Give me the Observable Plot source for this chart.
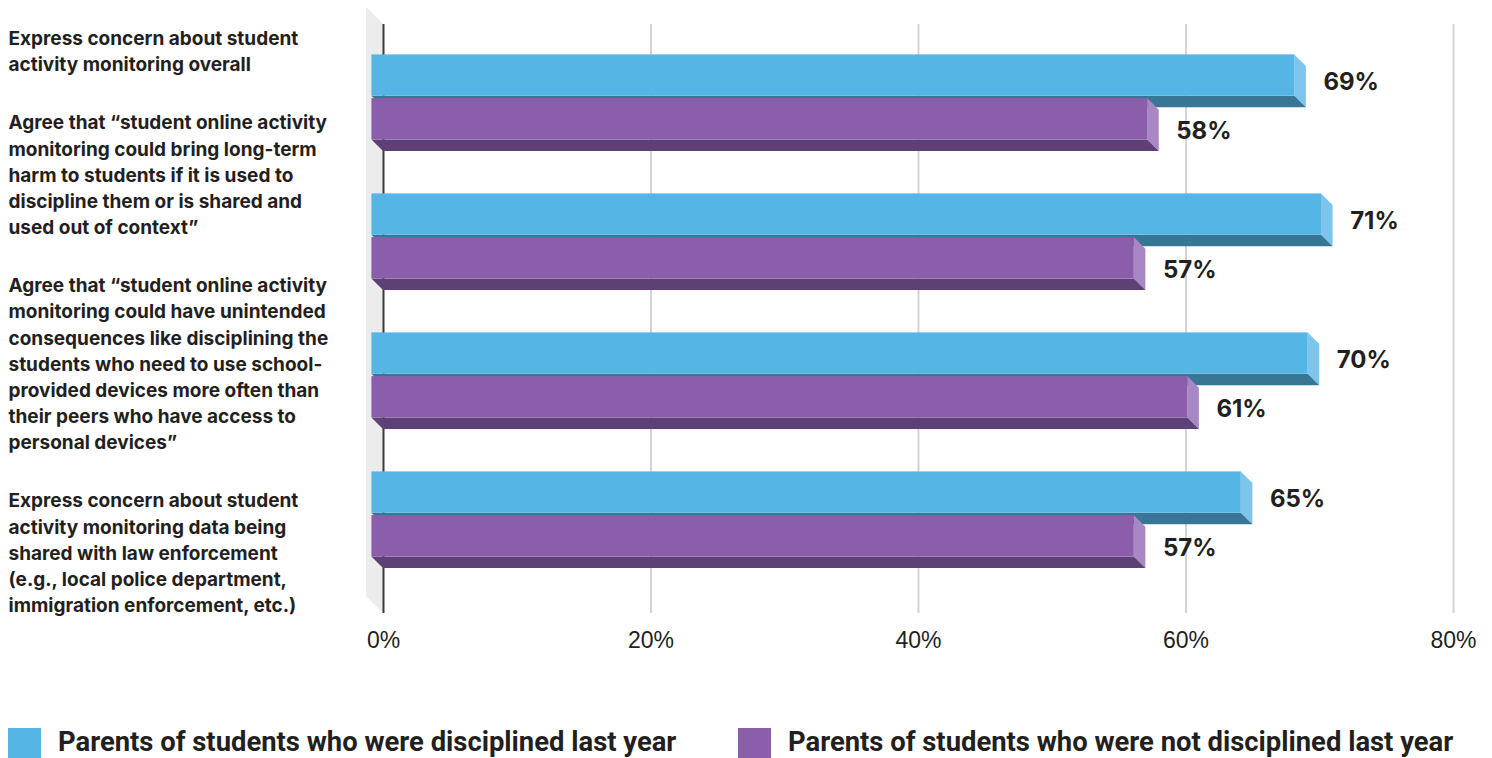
<!DOCTYPE html>
<html><head><meta charset="utf-8">
<script src="https://cdn.jsdelivr.net/npm/d3@7"></script>
<script src="https://cdn.jsdelivr.net/npm/@observablehq/plot@0.6"></script>
<style>
body{margin:0;background:#fff;width:1492px;height:758px;overflow:hidden;font-family:Roboto, sans-serif}
#legend{position:relative;height:30px;margin-top:28px}
.item{position:absolute;top:0;height:30px}
.sw{position:absolute;left:0;top:0;width:33px;height:30px}
.lab{position:absolute;left:50px;top:-3px;font-weight:700;font-size:27.4px;line-height:34px;color:#231f20;white-space:nowrap}
</style></head><body>
<div id="chart"></div>
<div id="legend"></div>
<script>
// ---- data ----
const categories = [
  "Express concern about student\nactivity monitoring overall",
  "Agree that “student online activity\nmonitoring could bring long-term\nharm to students if it is used to\ndiscipline them or is shared and\nused out of context”",
  "Agree that “student online activity\nmonitoring could have unintended\nconsequences like disciplining the\nstudents who need to use school-\nprovided devices more often than\ntheir peers who have access to\npersonal devices”",
  "Express concern about student\nactivity monitoring data being\nshared with law enforcement\n(e.g., local police department,\nimmigration enforcement, etc.)"
];
const seriesNames = [
  "Parents of students who were disciplined last year",
  "Parents of students who were not disciplined last year"
];
const disciplined = [69, 71, 70, 65];
const notDisciplined = [58, 57, 61, 57];
const tickValues = [0, 20, 40, 60, 80];
const tickLabels = ["0%", "20%", "40%", "60%", "80%"];

// ---- styles ----
const frontColors = ["#55b5e5", "#8b5eab"];
const sideColors = ["#7dc5ec", "#a987c4"];
const bottomColors = ["#387696", "#5d4075"];
const textColor = "#231f20";
const D = 11.6;          // 3D depth in px
const BAR = 41.3;        // bar thickness in px
const GAP = 2.4;         // gap between the two bars of a group
const BW = 2 * BAR + GAP;
const WALL = 17;

const seriesValues = [disciplined, notDisciplined];
const rows = seriesValues.map((vals, s) => categories.map((c, i) => ({cat: c, series: s, value: vals[i]})));

function extrusion(data, s) {
  return (index, scales) => {
    const x = scales.x, y = scales.y;
    const g = d3.create("svg:g");
    for (const d of data) {
      const x0 = x(0), xv = x(d.value);
      const top = y(d.cat) + (s === 0 ? 0 : BAR + GAP);
      const bot = top + BAR;
      g.append("path").attr("d", `M${xv - D},${top - D}L${xv},${top}L${xv},${bot}L${xv - D},${bot - D}Z`).attr("fill", sideColors[s]);
      g.append("path").attr("d", `M${x0 - D},${bot - D}L${xv - D},${bot - D}L${xv},${bot}L${x0},${bot}Z`).attr("fill", bottomColors[s]);
    }
    return g.node();
  };
}

function wall(index, scales, values, dims) {
  const x0 = scales.x(0);
  const t = dims.marginTop, b = dims.height - dims.marginBottom;
  const g = d3.create("svg:g");
  g.append("path").attr("d", `M${x0 - WALL},${t - WALL}L${x0},${t}L${x0},${b}L${x0 - WALL},${b - WALL}Z`).attr("fill", "#ececec");
  return g.node();
}

// category label flow
const LABEL_FS = 19, LINE = 26.2, PARA = 58, FIRST_BASE = 39.5;
const labelOffsets = [];
{
  let b = FIRST_BASE;
  categories.forEach((c, i) => {
    labelOffsets.push(b);
    b += (c.split("\n").length - 1) * LINE + PARA;
  });
}

const width = 1492, height = 700, marginTop = 24, marginBottom = 87, marginLeft = 383, marginRight = 39;
const step = 139.67;
const yTop = 64.6;

const marks = [
  wall,
  Plot.ruleX(tickValues.slice(1), {stroke: "#d3d3d3", strokeWidth: 2}),
  Plot.ruleX([0], {stroke: "#3a3a3a", strokeWidth: 2})
];
rows.forEach((data, s) => {
  marks.push(extrusion(data, s));
  marks.push(Plot.barX(data, {
    x: "value", y: "cat", fill: frontColors[s], dx: -D, dy: -D,
    insetTop: s === 0 ? 0 : BAR + GAP, insetBottom: s === 0 ? BAR + GAP : 0
  }));
});
rows.forEach((data, s) => {
  marks.push(Plot.text(data, {
    x: "value", y: "cat", text: d => d.value + "%", dx: 17, dy: s === 0 ? -26.4 : 22.6,
    textAnchor: "start", lineAnchor: "middle", fontSize: 24, fontWeight: 700, fontFamily: "Inter", fill: textColor
  }));
});
categories.forEach((c, i) => {
  marks.push(Plot.text([c], {
    text: d => d, frameAnchor: "top-left", dx: 8 - marginLeft, dy: labelOffsets[i] - marginTop - 0.71 * LABEL_FS,
    textAnchor: "start", lineAnchor: "top", lineHeight: LINE / LABEL_FS,
    fontSize: LABEL_FS, fontWeight: 700, fontFamily: "Inter", fill: textColor
  }));
});

const chart = Plot.plot({
  width, height, marginTop, marginBottom, marginLeft, marginRight,
  style: {fontFamily: "'Liberation Sans', Arial, sans-serif", fontSize: "23px", color: textColor, background: "white", overflow: "visible"},
  x: {domain: [0, 80], ticks: tickValues, tickFormat: (d) => tickLabels[tickValues.indexOf(d)], tickSize: 0, tickPadding: 18, label: null},
  y: {type: "band", domain: categories, range: [yTop, yTop + 3 * step + BW], paddingInner: 1 - BW / step, paddingOuter: 0, axis: null},
  marks
});
document.getElementById("chart").appendChild(chart);

const legend = document.getElementById("legend");
const lefts = [8, 738];
seriesNames.forEach((name, s) => {
  const it = document.createElement("div");
  it.className = "item";
  it.style.left = lefts[s] + "px";
  it.innerHTML = `<div class="sw" style="background:${frontColors[s]}"></div><div class="lab">${name}</div>`;
  legend.appendChild(it);
});
</script>
</body></html>
